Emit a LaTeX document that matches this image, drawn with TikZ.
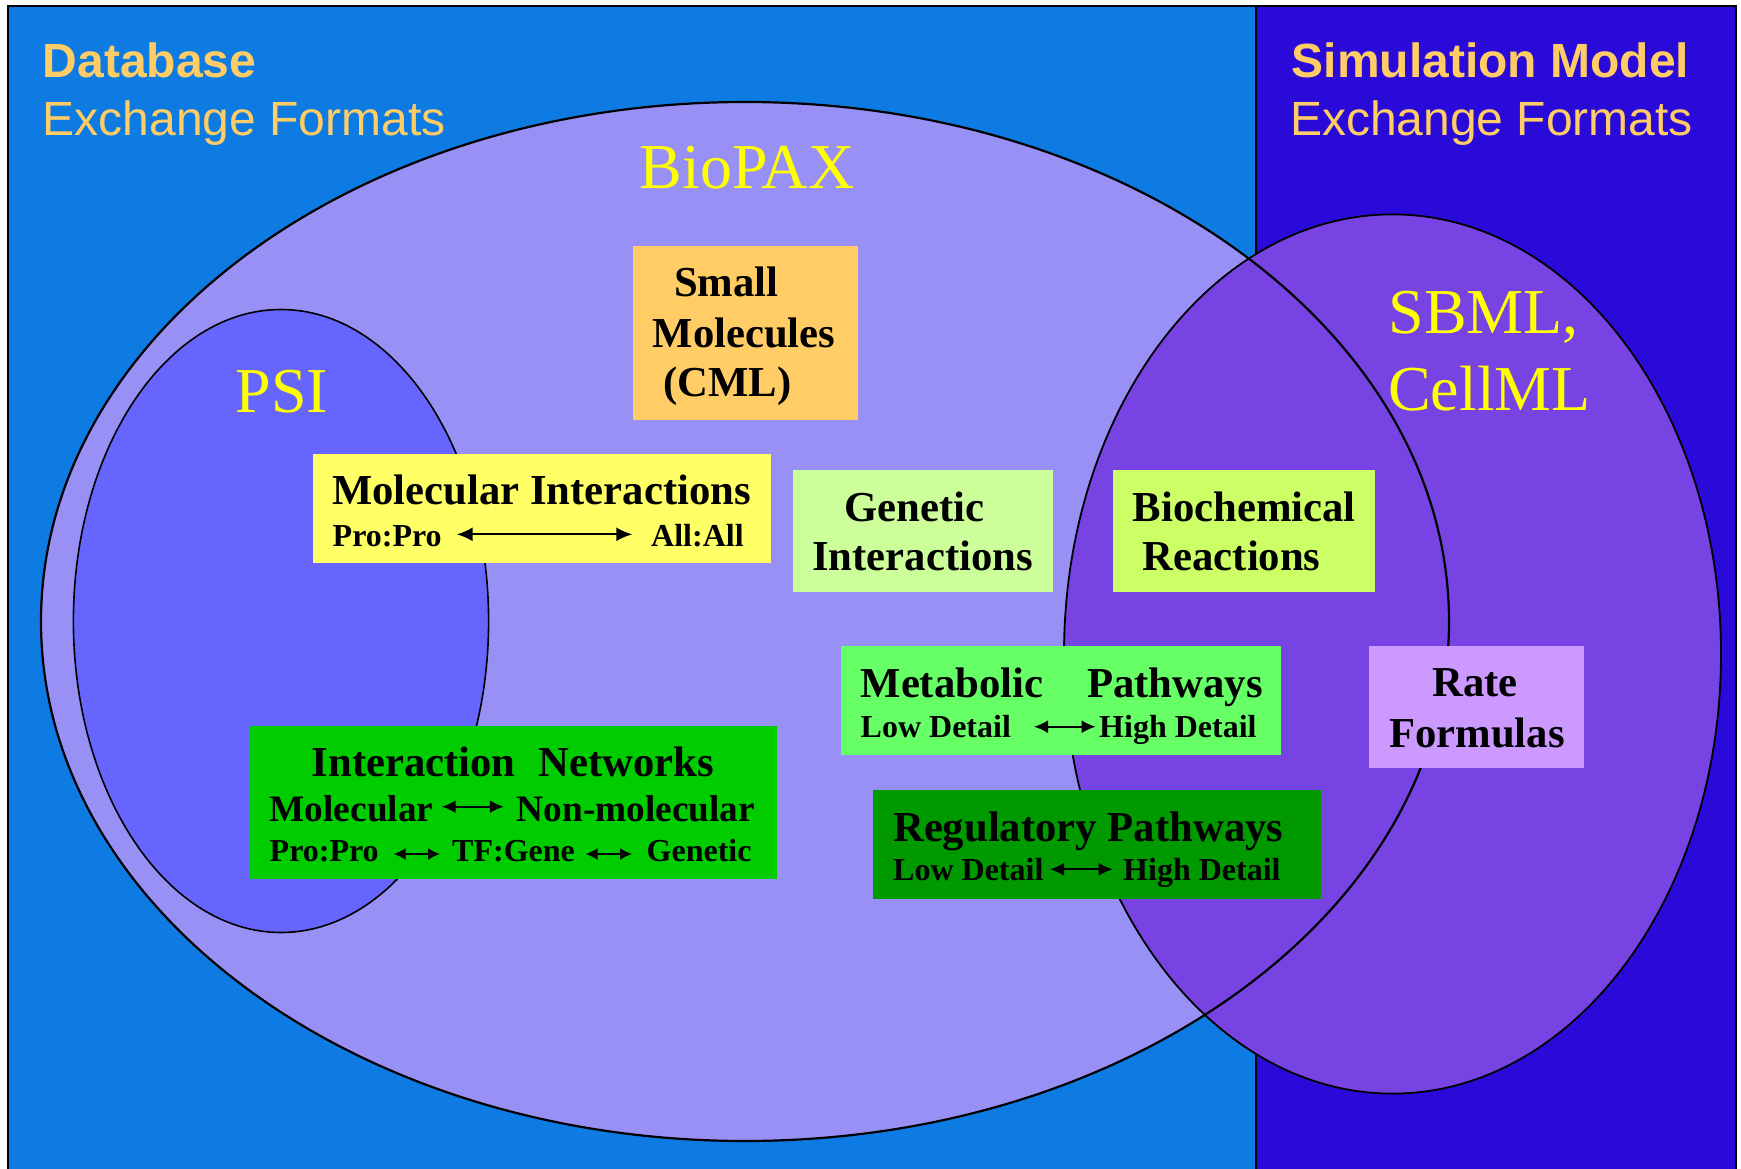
\documentclass[tikz,border=0pt]{standalone}
\usepackage{fontspec}
\setmainfont{Liberation Serif}
\setsansfont{Liberation Sans}
\usetikzlibrary{arrows.meta}

\definecolor{dbblue}{RGB}{14,123,227}
\definecolor{simblue}{RGB}{41,10,217}
\definecolor{biopaxc}{RGB}{152,144,245}
\definecolor{psic}{RGB}{102,102,255}
\definecolor{sbmlc}{RGB}{119,68,227}
\definecolor{headc}{RGB}{255,204,102}
\definecolor{smallc}{RGB}{255,204,102}
\definecolor{molc}{RGB}{255,255,102}
\definecolor{genc}{RGB}{204,255,153}
\definecolor{biochc}{RGB}{204,255,102}
\definecolor{metac}{RGB}{102,255,102}
\definecolor{ratec}{RGB}{204,153,255}
\definecolor{netc}{RGB}{0,204,0}
\definecolor{regc}{RGB}{0,153,0}
\definecolor{setyellow}{RGB}{255,255,0}

\begin{document}
\begin{tikzpicture}[x=1pt,y=-1pt,
  box/.style={draw=none, inner sep=0pt, anchor=north west},
  big/.style={inner sep=0pt, anchor=base west, text=black,
    font=\bfseries\fontsize{42.7}{51}\selectfont},
  mid/.style={big, font=\bfseries\fontsize{37.3}{45}\selectfont},
  small/.style={big, font=\bfseries\fontsize{32}{38}\selectfont},
  setname/.style={inner sep=0pt, text=setyellow,
    font=\fontsize{64}{77}\selectfont},
  heading/.style={inner sep=0pt, anchor=base west, text=headc,
    font=\sffamily\fontsize{48}{58}\selectfont},
  dbl/.style={{Latex[length=14pt,width=13pt]}-{Latex[length=14pt,width=13pt]},
    line width=2pt}]

\useasboundingbox (0,0) rectangle (1741,1169);

% two background panels and the frame
\fill[white] (0,0) rectangle (1741,1169);
\fill[dbblue] (8,6) rectangle (1256,1169);
\fill[simblue] (1256,6) rectangle (1736,1169);
\draw[line width=1.5pt] (1256,6) -- (1256,1169);
\draw[line width=2.6pt] (8,1169) -- (8,6) -- (1736,6) -- (1736,1169);

% format sets
\fill[biopaxc] (745,621.5) ellipse [x radius=704pt, y radius=519.5pt];
\fill[psic] (281,621) ellipse [x radius=207.6pt, y radius=311.5pt];
\fill[sbmlc] (1392.5,654) ellipse [x radius=328.5pt, y radius=439.6pt];
\draw[line width=2.2pt] (745,621.5) ellipse [x radius=704pt, y radius=519.5pt];
\draw[line width=1.6pt] (281,621) ellipse [x radius=207.6pt, y radius=311.5pt];
\draw[line width=1.8pt] (1392.5,654) ellipse [x radius=328.5pt, y radius=439.6pt];

% headings
\node[heading, font=\sffamily\bfseries\fontsize{48}{58}\selectfont] (dbh) at (42.5,78) {Database};
\node[heading] (dbf) at (42.5,136) {Exchange Formats};
\node[heading, font=\sffamily\bfseries\fontsize{48}{58}\selectfont] (simh) at (1291.5,78) {Simulation Model};
\node[heading] (simf) at (1290,136) {Exchange Formats};

% set names
\node[setname, anchor=base] (biopax) at (747,189) {BioPAX};
\node[setname, anchor=base] (psi) at (282,412.7) {PSI};
\node[setname, anchor=base west] (sbml) at (1388.5,333.3) {SBML,};
\node[setname, anchor=base west] (cellml) at (1388,410) {CellML};

% content boxes
\node[box, fill=smallc, minimum width=224.6pt, minimum height=173.3pt] (smallbox) at (632.7,246) {};
\node[box, fill=molc, minimum width=458pt, minimum height=108.7pt] (molbox) at (312.7,454) {};
\node[box, fill=genc, minimum width=259.8pt, minimum height=121.7pt] (genbox) at (793,470) {};
\node[box, fill=biochc, minimum width=262pt, minimum height=121.7pt] (biochbox) at (1113,470) {};
\node[box, fill=metac, minimum width=440pt, minimum height=109pt] (metabox) at (841,646) {};
\node[box, fill=ratec, minimum width=215pt, minimum height=121.3pt] (ratebox) at (1369,646) {};
\node[box, fill=netc, minimum width=528pt, minimum height=153pt] (netbox) at (248.5,726) {};
\node[box, fill=regc, minimum width=448.3pt, minimum height=108.3pt] (regbox) at (872.7,790) {};

% Small Molecules
\node[big] (sm1) at (674,296) {Small};
\node[big] (sm2) at (652.5,347.7) {Molecules};
\node[big] (sm3) at (663,396.7) {(CML)};

% Molecular Interactions
\node[big] (mi1) at (332,504.3) {Molecular Interactions};
\node[small] (mi2) at (332.5,546) {Pro:Pro};
\node[small] (mi3) at (651,546) {All:All};
\coordinate (mia) at (456.7,534.3);
\coordinate (mib) at (632.3,534.3);
\draw[line width=2pt, {Latex[length=16pt,width=14pt]}-{Latex[length=16pt,width=14pt]}] (mia) -- (mib);

% Genetic Interactions
\node[big] (gi1) at (844.5,521) {Genetic};
\node[big] (gi2) at (812,570.7) {Interactions};

% Biochemical Reactions
\node[big] (br1) at (1132.5,521) {Biochemical};
\node[big] (br2) at (1142.5,570.7) {Reactions};

% Metabolic Pathways
\node[big] (mp1) at (860.5,697.7) {Metabolic\hspace{44pt}Pathways};
\node[small] (mp2) at (860.5,737.3) {Low Detail};
\node[small] (mp3) at (1099,737.3) {High Detail};
\coordinate (mpa) at (1034,726.7);
\coordinate (mpb) at (1095.7,726.7);
\draw[dbl] (mpa) -- (mpb);

% Rate Formulas
\node[big] (rf1) at (1432,696.7) {Rate};
\node[big] (rf2) at (1389,747.3) {Formulas};

% Interaction Networks
\node[big] (in1) at (311.5,776.7) {Interaction\hspace{23pt}Networks};
\node[mid] (in2) at (269.5,821.7) {Molecular};
\node[mid] (in3) at (516.5,821.7) {Non-molecular};
\coordinate (ina) at (441.7,806.7);
\coordinate (inb) at (503.8,806.7);
\draw[dbl] (ina) -- (inb);
\node[small] (in4) at (269.5,861.7) {Pro:Pro};
\node[small] (in5) at (452,861.7) {TF:Gene};
\node[small] (in6) at (646.5,861.7) {Genetic};
\coordinate (inc) at (393.6,854);
\coordinate (ind) at (440,854);
\coordinate (ine) at (585.5,854);
\coordinate (inf) at (632.1,854);
\draw[line width=2pt, {Latex[length=12pt,width=12pt]}-{Latex[length=12pt,width=12pt]}] (inc) -- (ind);
\draw[line width=2pt, {Latex[length=12pt,width=12pt]}-{Latex[length=12pt,width=12pt]}] (ine) -- (inf);

% Regulatory Pathways
\node[big] (rp1) at (893,841) {Regulatory Pathways};
\node[small] (rp2) at (893,880.7) {Low Detail};
\node[small] (rp3) at (1123,880.7) {High Detail};
\coordinate (rpa) at (1050,869.3);
\coordinate (rpb) at (1112.7,869.3);
\draw[dbl] (rpa) -- (rpb);

\end{tikzpicture}
\end{document}
